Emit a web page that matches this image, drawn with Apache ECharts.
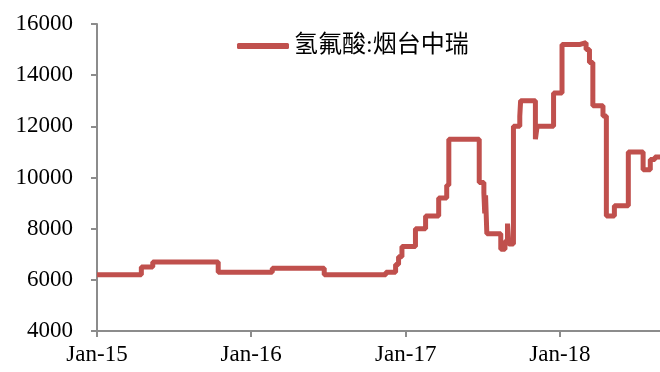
<!DOCTYPE html>
<html>
<head>
<meta charset="utf-8">
<script src="https://cdn.jsdelivr.net/npm/echarts@6/dist/echarts.min.js"></script>
<style>
html, body { margin: 0; padding: 0; background: #fff; }
#chart { width: 660px; height: 372px; }
</style>
</head>
<body>
<div id="chart"></div>
<script>
// step data: each value holds from its date until the next one
var dates = [
  '2015-01-01', '2015-04-16', '2015-05-13', '2015-10-15', '2016-02-20', '2016-06-22',
  '2016-11-15', '2016-12-08', '2016-12-15', '2016-12-23', '2017-01-24', '2017-02-17',
  '2017-03-20', '2017-04-08', '2017-04-13', '2017-06-24', '2017-07-05', '2017-07-07',
  '2017-07-09', '2017-07-12', '2017-08-14', '2017-08-24', '2017-08-30', '2017-09-02',
  '2017-09-13', '2017-09-28', '2017-09-30', '2017-11-04', '2017-11-08', '2017-12-17',
  '2018-01-06', '2018-02-18', '2018-03-04', '2018-03-12', '2018-03-20', '2018-04-13',
  '2018-04-21', '2018-05-10', '2018-06-12', '2018-07-17', '2018-08-03', '2018-08-14',
  '2018-08-26'
];
var prices = [
  6200, 6500, 6700, 6300, 6450, 6200,
  6300, 6600, 6900, 7300, 8000, 8500,
  9200, 9700, 11500, 9800, 9400, 8600,
  9300, 7800, 7200, 7500, 8200, 7400,
  12000, 12400, 13000, 11500, 12000, 13300,
  15200, 15270, 15000, 14500, 12800, 12400,
  8500, 8900, 11000, 10300, 10700, 10800,
  10800
];
var seriesName = '氢氟酸:烟台中瑞';
var yTicks = [4000, 16000, 2000]; // min, max, interval
var months = ['Jan','Feb','Mar','Apr','May','Jun','Jul','Aug','Sep','Oct','Nov','Dec'];

var DAY = 24 * 3600 * 1000;
var chart = echarts.init(document.getElementById('chart'));
chart.setOption({
  useUTC: true,
  animation: false,
  grid: { left: 97, right: 0, top: 24, bottom: 41 },
  legend: {
    data: [seriesName],
    left: 232,
    top: 29,
    icon: 'roundRect',
    itemWidth: 52,
    itemHeight: 6,
    itemGap: 6,
    textStyle: { fontFamily: 'Liberation Serif, Noto Sans CJK SC', fontSize: 24, color: '#000' }
  },
  xAxis: {
    type: 'time',
    min: Date.parse(dates[0]),
    max: Date.parse(dates[dates.length - 1]),
    minInterval: 365 * DAY,
    splitLine: { show: false },
    axisLine: { lineStyle: { color: '#8c8c8c', width: 2 } },
    axisTick: { show: true, length: 6, lineStyle: { color: '#8c8c8c', width: 2 } },
    axisLabel: {
      margin: 12,
      color: '#000',
      fontFamily: 'Liberation Serif',
      fontSize: 23,
      formatter: function (v) {
        var d = new Date(v);
        return months[d.getUTCMonth()] + '-' + String(d.getUTCFullYear()).slice(2);
      }
    }
  },
  yAxis: {
    type: 'value',
    min: yTicks[0],
    max: yTicks[1],
    interval: yTicks[2],
    splitLine: { show: false },
    axisLine: { show: true, lineStyle: { color: '#8c8c8c', width: 2 } },
    axisTick: { show: true, length: 6, lineStyle: { color: '#8c8c8c', width: 2 } },
    axisLabel: {
      margin: 24,
      color: '#000',
      fontFamily: 'Liberation Serif',
      fontSize: 23,
      formatter: function (v) { return String(v); }
    }
  },
  series: [{
    name: seriesName,
    type: 'line',
    step: 'end',
    showSymbol: false,
    lineStyle: { color: '#C0504D', width: 5 },
    itemStyle: { color: '#C0504D' },
    data: dates.map(function (d, i) { return [Date.parse(d), prices[i]]; })
  }]
});
</script>
</body>
</html>
